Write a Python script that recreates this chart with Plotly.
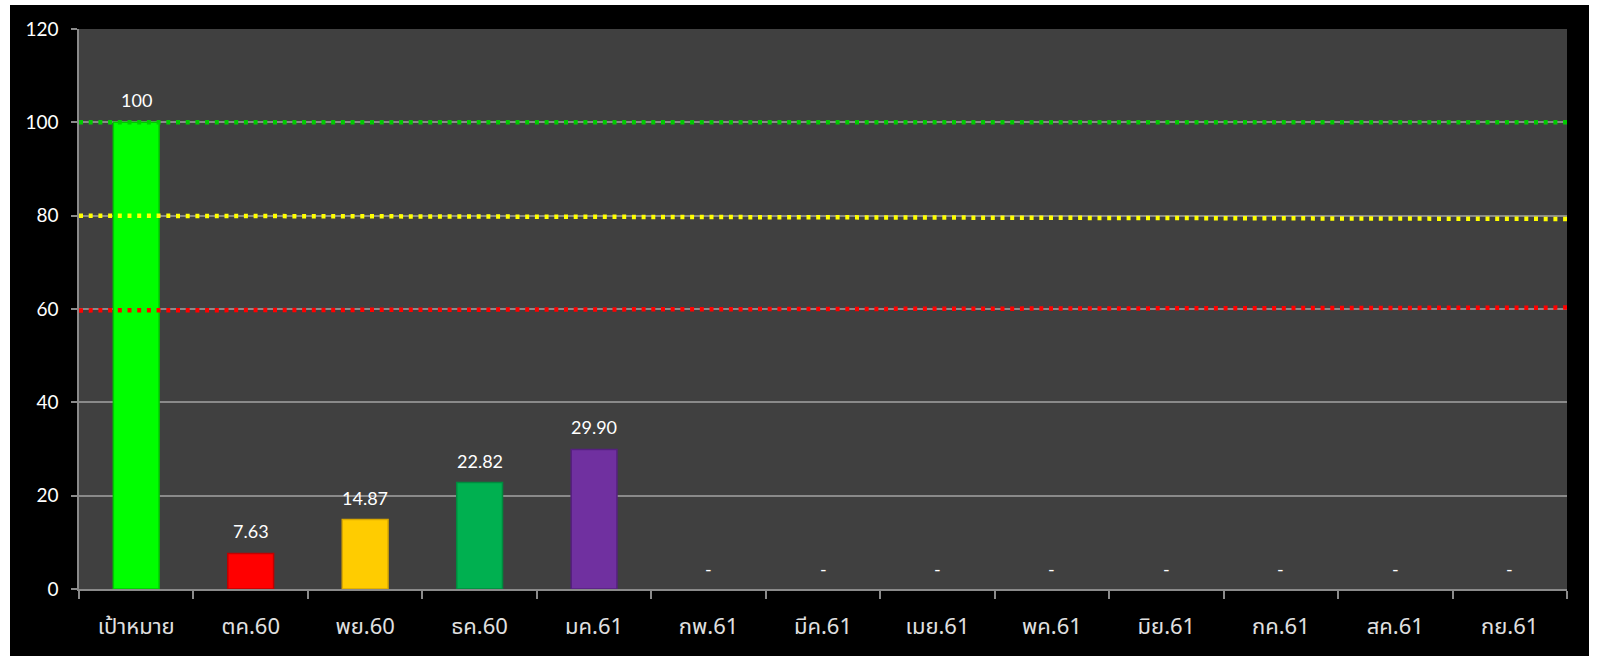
import plotly.graph_objects as go

categories = ["เป้าหมาย", "ตค.60", "พย.60", "ธค.60", "มค.61", "กพ.61", "มีค.61",
              "เมย.61", "พค.61", "มิย.61", "กค.61", "สค.61", "กย.61"]
values = [100, 7.63, 14.87, 22.82, 29.90, None, None, None, None, None, None, None, None]
value_labels = ["100", "7.63", "14.87", "22.82", "29.90", "-", "-", "-", "-", "-", "-", "-", "-"]
bar_colors = ["#00FF00", "#FF0000", "#FFCC00", "#00B050", "#7030A0"] + ["#808080"] * 8
bar_edges = ["#00C800", "#C00000", "#D9A800", "#008A3E", "#55207F"] + ["#808080"] * 8

# reference lines (start / end of plot width)
line_x = [-0.5, 12.5]
green_line = [100, 100]
yellow_line = [80.0, 79.3]
red_line = [59.7, 60.3]

y_ticks = [0, 20, 40, 60, 80, 100, 120]

fig = go.Figure()

fig.add_trace(go.Bar(
    x=categories, y=values,
    marker=dict(color=bar_colors, line=dict(color=bar_edges, width=1.5)),
    width=0.4, showlegend=False, hoverinfo="skip",
))

for ys, col in [(green_line, "#00CC00"), (yellow_line, "#FFFF00"), (red_line, "#FF0000")]:
    fig.add_trace(go.Scatter(
        x=line_x, y=ys, xaxis="x2", mode="lines",
        line=dict(color=col, width=4.5, dash="4px,5.7px"),
        showlegend=False, hoverinfo="skip", cliponaxis=False,
    ))

annotations = []
for c, v, lab in zip(categories, values, value_labels):
    annotations.append(dict(
        x=c, y=(v if v is not None else 0), xref="x", yref="y",
        text=lab, showarrow=False, yanchor="middle", yshift=22 if v is not None else 20,
        font=dict(family="Lato, 'Open Sans', sans-serif", size=18, color="#FFFFFF"),
    ))

fig.update_layout(
    width=1597, height=656,
    margin=dict(l=79, r=30, t=29, b=67),
    paper_bgcolor="#000000",
    plot_bgcolor="#404040",
    bargap=0.6,
    annotations=annotations,
    xaxis=dict(
        type="category", tickson="boundaries",
        showgrid=False, showline=True, linecolor="#8A8A8A", linewidth=1.5,
        ticks="outside", ticklen=8, tickcolor="#8A8A8A", tickwidth=1.5,
        tickfont=dict(family="'Noto Sans Thai', Loma, Garuda, 'Noto Sans', sans-serif",
                      size=22, color="#E0E0E0"),
        ticklabelstandoff=17,
        range=[-0.5, 12.5],
    ),
    xaxis2=dict(overlaying="x", range=[-0.5, 12.5], visible=False),
    yaxis=dict(
        range=[0, 120], tickvals=y_ticks,
        showgrid=True, gridcolor="#8A8A8A", gridwidth=1.5,
        showline=True, linecolor="#8A8A8A", linewidth=1.5,
        ticks="outside", ticklen=6, tickcolor="#8A8A8A", tickwidth=1.5,
        tickfont=dict(family="Lato, 'Open Sans', sans-serif", size=19, color="#FFFFFF"),
        ticklabelstandoff=9, zeroline=False,
    ),
    shapes=[
        dict(type="rect", xref="paper", yref="paper", layer="above",
             x0=-0.06, x1=(10 - 79) / 1488, y0=-0.2, y1=1.1,
             fillcolor="#FFFFFF", line=dict(width=0)),
        dict(type="rect", xref="paper", yref="paper", layer="above",
             x0=(1589 - 79) / 1488, x1=1.05, y0=-0.2, y1=1.1,
             fillcolor="#FFFFFF", line=dict(width=0)),
        dict(type="rect", xref="paper", yref="paper", layer="above",
             x0=-0.06, x1=1.05, y0=(589 - 5) / 560, y1=1.1,
             fillcolor="#FFFFFF", line=dict(width=0)),
    ],
)

fig.write_html("out.html", config={"displayModeBar": False},
               post_script="document.body.style.margin='0';")
